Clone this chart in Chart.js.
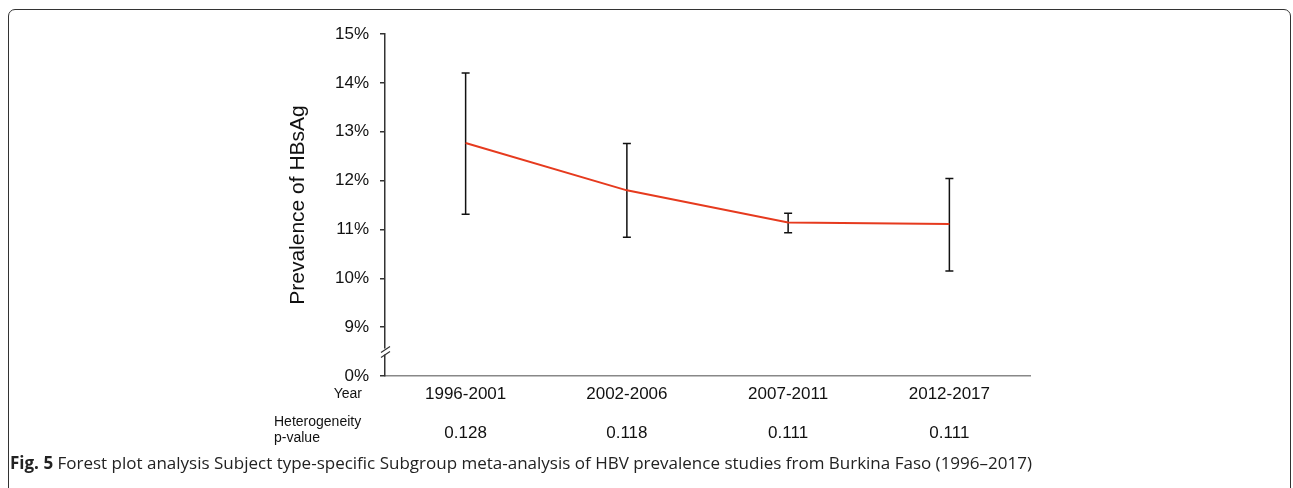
<!DOCTYPE html>
<html>
<head>
<meta charset="utf-8">
<script src="https://cdn.jsdelivr.net/npm/chart.js@4.4.1/dist/chart.umd.min.js"></script>
<style>
  html, body { margin: 0; padding: 0; background: #fff; }
  #wrap { position: relative; width: 1293px; height: 488px; overflow: hidden; }
  #frame {
    position: absolute; left: 8px; top: 9px; width: 1281px; height: 520px;
    border: 1.5px solid #333; border-radius: 7px;
  }
  #chart { position: absolute; left: 0; top: 0; }
  #caption {
    position: absolute; left: 10px; top: 451px;
    font-family: "Open Sans", "Noto Sans", sans-serif; font-size: 17px;
    color: #222; white-space: nowrap;
  }
  #caption b { font-weight: 700; }
</style>
</head>
<body>
<div id="wrap">
  <div id="frame"></div>
  <canvas id="chart" width="1293" height="488"></canvas>
  <div id="caption"><b>Fig. 5</b> Forest plot analysis Subject type-specific Subgroup meta-analysis of HBV prevalence studies from Burkina Faso (1996–2017)</div>
</div>
<script>
// data
const categories = ['1996-2001', '2002-2006', '2007-2011', '2012-2017'];
const prevalence = [12.77, 11.80, 11.14, 11.11];
const upperCI = [14.20, 12.76, 11.33, 12.04];
const lowerCI = [11.31, 10.84, 10.93, 10.15];
const pValues = ['0.128', '0.118', '0.111', '0.111'];
const yTickLabels = ['0%', '9%', '10%', '11%', '12%', '13%', '14%', '15%'];

// axis is broken: the bottom tick stands for 0%
const Y_MIN = 8;
const Y_MAX = 15;
const FONT = '"Liberation Sans", Arial, sans-serif';

// error bars, drawn under the red line
const errorBars = {
    id: 'errorBars',
    beforeDatasetsDraw(chart) {
        const { ctx, scales: { x, y } } = chart;
        ctx.save();
        ctx.strokeStyle = '#111';
        ctx.lineWidth = 1.5;
        categories.forEach((c, i) => {
            const px = x.getPixelForValue(i);
            const top = y.getPixelForValue(upperCI[i]);
            const bot = y.getPixelForValue(lowerCI[i]);
            ctx.beginPath();
            ctx.moveTo(px, top); ctx.lineTo(px, bot);
            ctx.moveTo(px - 4, top); ctx.lineTo(px + 4, top);
            ctx.moveTo(px - 4, bot); ctx.lineTo(px + 4, bot);
            ctx.stroke();
        });
        ctx.restore();
    }
};

// axis break marks + the table under the x axis
const extras = {
    id: 'extras',
    afterDraw(chart) {
        const { ctx, scales: { x, y } } = chart;
        ctx.save();
        const bx = x.left;
        const by = y.getPixelForValue(Y_MIN + 0.5);
        ctx.fillStyle = '#fff';
        ctx.fillRect(bx - 2, by - 3, 4, 6);
        ctx.strokeStyle = '#333';
        ctx.lineWidth = 1.2;
        ctx.beginPath();
        ctx.moveTo(bx - 4, by + 1); ctx.lineTo(bx + 5, by - 5);
        ctx.moveTo(bx - 4, by + 6); ctx.lineTo(bx + 5, by);
        ctx.stroke();

        ctx.fillStyle = '#111';
        ctx.textBaseline = 'middle';
        ctx.font = '14px ' + FONT;
        ctx.textAlign = 'right';
        ctx.fillText('Year', x.left - 23, 394);
        ctx.textAlign = 'left';
        ctx.fillText('Heterogeneity', 274, 422);
        ctx.fillText('p-value', 274, 438);

        ctx.font = '17px ' + FONT;
        ctx.textAlign = 'center';
        pValues.forEach((p, i) => {
            ctx.fillText(p, x.getPixelForValue(i), 433);
        });
        ctx.restore();
    }
};

new Chart(document.getElementById('chart'), {
    type: 'line',
    data: {
        labels: categories,
        datasets: [{
            data: prevalence,
            borderColor: '#e63a1e',
            borderWidth: 2,
            pointRadius: 0,
            tension: 0,
            fill: false
        }]
    },
    options: {
        responsive: false,
        animation: false,
        layout: { padding: { left: 265, right: 263, top: 34, bottom: 0 } },
        plugins: { legend: { display: false }, tooltip: { enabled: false } },
        scales: {
            x: {
                type: 'category',
                offset: true,
                grid: { display: false, drawTicks: false },
                border: { color: '#888', width: 1.5 },
                ticks: { font: { family: FONT, size: 17 }, color: '#111', padding: 8 },
                afterFit(scale) { scale.height = 112; }
            },
            y: {
                min: Y_MIN,
                max: Y_MAX,
                afterBuildTicks(scale) {
                    scale.ticks = yTickLabels.map((l, i) => ({ value: Y_MIN + i }));
                },
                grid: { drawOnChartArea: false, drawTicks: true, tickLength: 5, color: '#333', lineWidth: 1.5 },
                border: { color: '#333', width: 1.5 },
                ticks: {
                    font: { family: FONT, size: 17 },
                    color: '#111',
                    padding: 11,
                    callback: (v, i) => yTickLabels[i]
                },
                title: {
                    display: true,
                    text: 'Prevalence of HBsAg',
                    font: { family: FONT, size: 21 },
                    color: '#111',
                    padding: { top: 21, bottom: 0 }
                },
                afterFit(scale) { scale.width = 120; }
            }
        }
    },
    plugins: [errorBars, extras]
});
</script>
</body>
</html>
